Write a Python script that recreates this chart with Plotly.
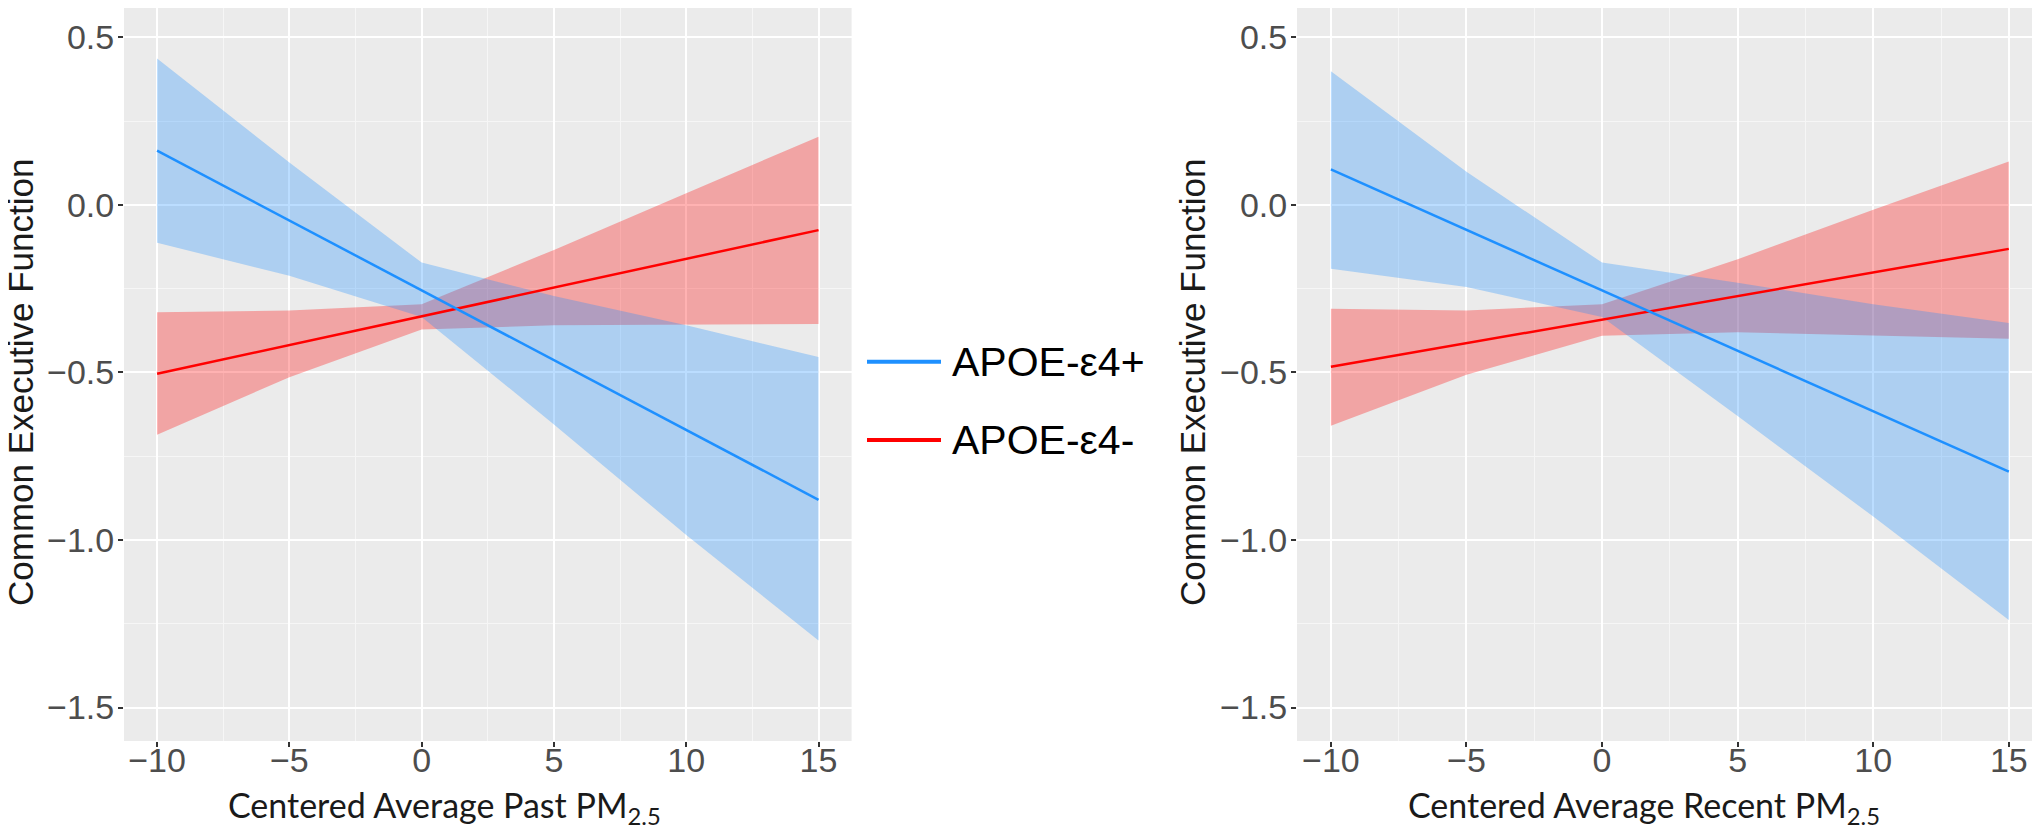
import plotly.graph_objects as go

# ---------------- data ----------------
x_pts = [-10, -5, 0, 5, 10, 15]
x_ends = [-10, 15]

# Panel 1: Centered Average Past PM2.5
past_pos_fit = [0.162, -0.880]
past_pos_upper = [0.437, 0.127, -0.172, -0.272, -0.359, -0.454]
past_pos_lower = [-0.113, -0.211, -0.334, -0.655, -0.985, -1.300]
past_neg_fit = [-0.504, -0.075]
past_neg_upper = [-0.320, -0.315, -0.296, -0.134, 0.035, 0.204]
past_neg_lower = [-0.686, -0.514, -0.372, -0.359, -0.356, -0.355]

# Panel 2: Centered Average Recent PM2.5
rec_pos_fit = [0.106, -0.796]
rec_pos_upper = [0.399, 0.099, -0.172, -0.232, -0.296, -0.352]
rec_pos_lower = [-0.190, -0.245, -0.334, -0.630, -0.930, -1.239]
rec_neg_fit = [-0.483, -0.131]
rec_neg_upper = [-0.310, -0.315, -0.296, -0.162, -0.014, 0.130]
rec_neg_lower = [-0.659, -0.507, -0.390, -0.380, -0.390, -0.399]

group_names = ["APOE-ε4+", "APOE-ε4-"]
x_titles = ["Centered Average Past PM<sub>2.5</sub>", "Centered Average Recent PM<sub>2.5</sub>"]
y_title = "Common Executive Function"
x_ticks = [-10, -5, 0, 5, 10, 15]
y_ticks = [-1.5, -1.0, -0.5, 0.0, 0.5]

BLUE = "#1E90FF"
RED = "#FF0000"
BLUE_FILL = "rgba(30,144,255,0.3)"
RED_FILL = "rgba(255,0,0,0.3)"
FONT = "Liberation Sans, Arial, sans-serif"

fig = go.Figure()


def add_panel(xa, ya, pos_fit, pos_up, pos_lo, neg_fit, neg_up, neg_lo):
    # red ribbon first, blue ribbon on top
    fig.add_trace(go.Scatter(x=x_pts + x_pts[::-1], y=neg_up + neg_lo[::-1], fill="toself",
                             fillcolor=RED_FILL, line=dict(width=0), mode="lines",
                             hoverinfo="skip", showlegend=False, xaxis=xa, yaxis=ya))
    fig.add_trace(go.Scatter(x=x_pts + x_pts[::-1], y=pos_up + pos_lo[::-1], fill="toself",
                             fillcolor=BLUE_FILL, line=dict(width=0), mode="lines",
                             hoverinfo="skip", showlegend=False, xaxis=xa, yaxis=ya))
    fig.add_trace(go.Scatter(x=x_ends, y=neg_fit, mode="lines", line=dict(color=RED, width=2.5),
                             name=group_names[1], showlegend=False, xaxis=xa, yaxis=ya))
    fig.add_trace(go.Scatter(x=x_ends, y=pos_fit, mode="lines", line=dict(color=BLUE, width=2.5),
                             name=group_names[0], showlegend=False, xaxis=xa, yaxis=ya))


add_panel("x", "y", past_pos_fit, past_pos_upper, past_pos_lower,
          past_neg_fit, past_neg_upper, past_neg_lower)
add_panel("x2", "y2", rec_pos_fit, rec_pos_upper, rec_pos_lower,
          rec_neg_fit, rec_neg_upper, rec_neg_lower)

# The page body has an 8px margin, so page coordinates = figure coordinates + 8.
OFF = 8
W, H = 2040 - OFF, 837 - OFF
ML, MR, MT, MB = 124 - OFF, 0, 0, H - (741 - OFF)
PW = W - ML - MR
PH = H - MT - MB


def px_x(p):
    return (p - OFF - ML) / PW


def px_y(p):
    return (H - MB - (p - OFF)) / PH


common_x = dict(
    tickvals=x_ticks, ticks="outside", ticklen=5, tickwidth=1.5, tickcolor="#333333",
    tickfont=dict(family=FONT, size=34, color="#4D4D4D"), ticklabelstandoff=-16,
    showgrid=True, gridcolor="white", gridwidth=2,
    minor=dict(dtick=2.5, tick0=0, showgrid=True, gridcolor="#F6F6F6", gridwidth=1),
    zeroline=False, showline=False, fixedrange=True, automargin=False,
)
common_y = dict(
    range=[-1.6, 0.588], tickvals=y_ticks, tickformat=".1f", ticks="outside", ticklen=5,
    tickwidth=1.5, tickcolor="#333333", ticklabelstandoff=-3,
    tickfont=dict(family=FONT, size=34, color="#4D4D4D"),
    showgrid=True, gridcolor="white", gridwidth=2,
    minor=dict(dtick=0.25, tick0=0, showgrid=True, gridcolor="#F6F6F6", gridwidth=1),
    zeroline=False, showline=False, fixedrange=True, automargin=False,
)

fig.update_layout(
    width=W, height=H,
    margin=dict(l=ML, r=MR, t=MT, b=MB, autoexpand=False),
    paper_bgcolor="white", plot_bgcolor="#EBEBEB",
    showlegend=False,
    xaxis=dict(common_x, domain=[0, px_x(851.6)], range=[-11.25, 16.25], anchor="y"),
    yaxis=dict(common_y, domain=[0, 1], anchor="x"),
    xaxis2=dict(common_x, domain=[px_x(1297), 1.0], range=[-11.25, 16.15], anchor="y2"),
    yaxis2=dict(common_y, domain=[0, 1], anchor="x2"),
)

# axis titles
ann = []
for txt, cx in ((x_titles[0], 444), (x_titles[1], 1644)):
    ann.append(dict(text=txt, x=px_x(cx), y=px_y(782), xref="paper", yref="paper",
                    xanchor="center", yanchor="top", showarrow=False,
                    font=dict(family="Lato, sans-serif", size=34, color="#1a1a1a")))
for cx in (20, 1192):
    ann.append(dict(text=y_title, x=px_x(cx), y=px_y(383), xref="paper", yref="paper",
                    xanchor="center", yanchor="middle", textangle=-90, showarrow=False,
                    font=dict(family=FONT, size=35, color="#1a1a1a")))

# legend (drawn manually to match the reference's key size)
legend_rows = [(group_names[0], BLUE, 361.7), (group_names[1], RED, 440.0)]
shapes = []
for name, col, yy in legend_rows:
    shapes.append(dict(type="line", xref="paper", yref="paper",
                       x0=px_x(867), x1=px_x(941), y0=px_y(yy), y1=px_y(yy),
                       line=dict(color=col, width=4)))
    ann.append(dict(text=name, x=px_x(950), y=px_y(yy), xref="paper", yref="paper",
                    xanchor="left", yanchor="middle", showarrow=False,
                    font=dict(family=FONT, size=41, color="#000000")))

fig.update_layout(annotations=ann, shapes=shapes)

fig.write_html("out.html")
